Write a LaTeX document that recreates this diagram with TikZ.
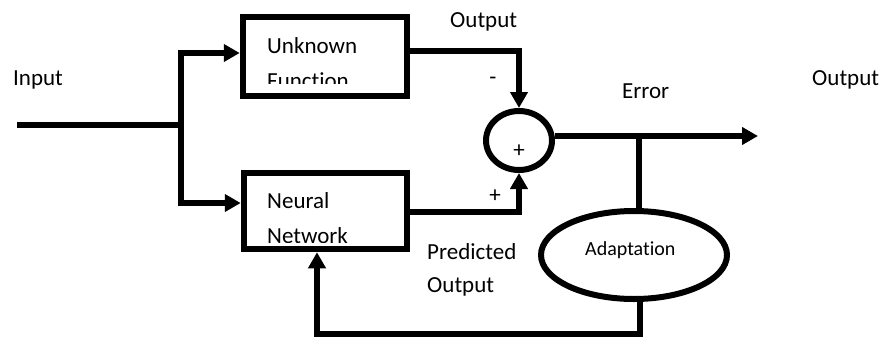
\documentclass[tikz,border=0pt]{standalone}
\usepackage{fontspec}
\setmainfont{Carlito}[Ligatures=NoCommon]
\usetikzlibrary{arrows.meta,shapes.geometric}

\tikzset{
  wire/.style={line width=5.5pt, line join=miter, draw=black},
  arr/.style={wire, -{Triangle[length=16pt,width=17pt]}},
  blk/.style={draw=black, line width=6.5pt, rectangle, inner sep=0pt},
  sumnode/.style={draw=black, line width=6pt, ellipse, inner sep=0pt},
  lbl/.style={anchor=base west, inner sep=0pt, font=\fontsize{23}{28}\selectfont},
  sgn/.style={anchor=base, inner sep=0pt, font=\fontsize{23}{28}\selectfont},
}

\begin{document}
\begin{tikzpicture}[x=1pt, y=-1pt]
  \useasboundingbox (0,0) rectangle (884,338);

  % blocks
  \node[blk, minimum width=164pt, minimum height=79pt] (ufun) at (325,56.5) {};
  \node[blk, minimum width=163pt, minimum height=76pt] (nnet) at (325.5,211) {};
  \node[sumnode, minimum width=66pt, minimum height=59pt] (sum) at (519,140.5) {};
  \node[sumnode, minimum width=186pt, minimum height=88pt] (adapt) at (634,255) {};

  % block texts (second lines cut off by the box)
  \node[lbl] (tunk) at (267,53) {Unknown};
  \node[lbl] (tneu) at (267,208) {Neural};
  \begin{scope}
    \clip (245,20) rectangle (404,83);
    \node[lbl] (tfun) at (267,88) {Function};
  \end{scope}
  \begin{scope}
    \clip (245,176) rectangle (404,242);
    \node[lbl] (tnet) at (267,243) {Network};
  \end{scope}
  \node[sgn] (tplus) at (519,157) {+};
  \node[anchor=base west, inner sep=0pt, font=\fontsize{20}{24}\selectfont] (tada) at (585,255) {Adaptation};

  % free labels
  \node[lbl] (tin) at (13,85) {Input};
  \node[lbl] (tout1) at (450,27) {Output};
  \node[lbl] (terr) at (622,98) {Error};
  \node[lbl] (tout2) at (812,85) {Output};
  \node[lbl] (tpred) at (427,259) {Predicted};
  \node[lbl] (tpout) at (427,292) {Output};
  \node[sgn] (tminus) at (493,84) {-};
  \node[sgn] (tplus2) at (495,202) {+};

  % junction points
  \coordinate (in) at (17,125);
  \coordinate (split) at (181,125);
  \coordinate (jtop) at (181,53);
  \coordinate (jbot) at (181,203);
  \coordinate (errend) at (758,136);
  \coordinate (tap) at (639,136);
  \coordinate (fbr) at (640,334);
  \coordinate (fbl) at (317,334);

  % input and split
  \draw[wire] (in) -- (split);
  \draw[arr] (jbot) -- (jtop) -- (jtop -| ufun.west);
  \draw[arr] (jtop) -- (jbot) -- (jbot -| nnet.west);

  % block outputs into the summing junction
  \draw[arr] ([yshift=5.5pt]ufun.east) -| (sum.north);
  \draw[arr] ([yshift=-1pt]nnet.east) -| (sum.south);

  % error output
  \draw[arr] ([yshift=4.5pt]sum.east) -- (errend);

  % adaptation loop
  \draw[wire] (tap) -- (tap |- adapt.north);
  \draw[arr] (fbr |- adapt.south) -- (fbr) -- (fbl) -- (fbl |- nnet.south);
\end{tikzpicture}
\end{document}
